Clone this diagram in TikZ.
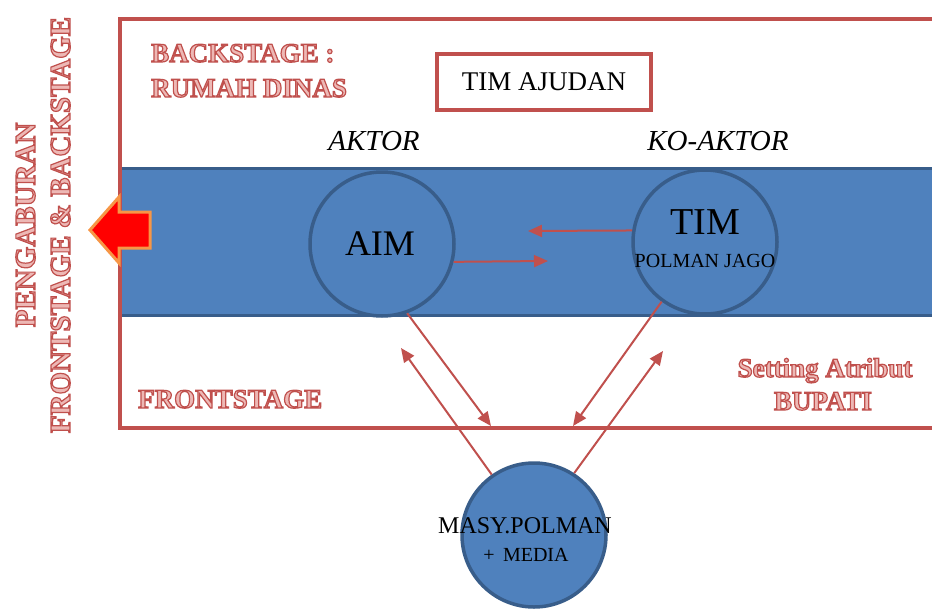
\documentclass[tikz,border=0pt]{standalone}
\usepackage{fontspec}
\setmainfont{Liberation Serif}
\usetikzlibrary{arrows.meta}
\definecolor{redline}{HTML}{C0504D}
\definecolor{bandblue}{HTML}{4F81BD}
\definecolor{darkblue}{HTML}{385D8A}
\definecolor{arrowred}{HTML}{FF0000}
\definecolor{arroworange}{HTML}{F79646}
\newcommand{\engr}[1]{\textcolor{redline}{\special{pdf:code q 2 Tr 1.2 w 0.93 0.72 0.71 rg}#1\special{pdf:code Q}}}
\tikzset{
  circ/.style={circle, fill=bandblue, draw=darkblue, line width=3.5pt, minimum size=144pt, inner sep=0pt},
  redarrow/.style={draw=redline, line width=2pt, -{Triangle[length=14pt,width=12pt]}},
  redtxt/.style={font=\fontsize{27}{30}\selectfont\bfseries, inner sep=0pt},
  vtxt/.style={font=\fontsize{29}{32}\selectfont\bfseries, inner sep=0pt, rotate=90, anchor=base},
  btxt/.style={text=black, inner sep=0pt}
}
\begin{document}
\begin{tikzpicture}[x=1pt,y=-1pt]
\useasboundingbox (0,0) rectangle (932,608);
\fill[white] (0,0) rectangle (932,608);
% blue band
\draw[fill=bandblue, draw=darkblue, line width=3pt] (120,168) rectangle (950,315);
% outer frame
\draw[redline, line width=4pt] (120,19) rectangle (950,428);
% circles
\node[circ] (aim) at (382,244) {};
\node[circ] (tim) at (705,242) {};
\node[circ] (masy) at (534,535) {};
\node[btxt, font=\fontsize{36}{36}\selectfont] (aimtxt) at (380,244) {AIM};
\node[btxt, font=\fontsize{38}{38}\selectfont] (timtxt) at (705,222) {TIM};
\node[btxt, font=\fontsize{20}{20}\selectfont] (timsub) at (705,261) {POLMAN JAGO};
\node[btxt, font=\fontsize{24}{24}\selectfont] (masytxt) at (525,526) {MASY.POLMAN};
\node[btxt, font=\fontsize{20}{20}\selectfont] (masysub) at (526,555) {+\, MEDIA};
% labels
\node[btxt, font=\fontsize{29}{29}\selectfont\itshape, anchor=base] (aktor) at (374,150) {AKTOR};
\node[btxt, font=\fontsize{29}{29}\selectfont\itshape, anchor=base] (koaktor) at (718,150) {KO-AKTOR};
\node[draw=redline, line width=3.5pt, minimum width=214pt, minimum height=56pt, font=\fontsize{27}{27}\selectfont] (ajudan) at (544,82) {TIM AJUDAN};
% red engraved texts
\node[redtxt, anchor=base west] (back1) at (151,62) {\engr{BACKSTAGE :}};
\node[redtxt, anchor=base west] (back2) at (151,97) {\engr{RUMAH DINAS}};
\node[redtxt, anchor=base west] (front) at (138,408) {\engr{FRONTSTAGE}};
\node[redtxt, anchor=base] (set1) at (825,377) {\engr{Setting Atribut}};
\node[redtxt, anchor=base] (set2) at (823,410) {\engr{BUPATI}};
\node[vtxt] (v1) at (35,225) {\engr{PENGABURAN}};
\node[vtxt] (v2) at (70,225) {\engr{FRONTSTAGE \& BACKSTAGE}};
% free ends
\coordinate (e1) at (491,426);
\coordinate (e2) at (401,348);
\coordinate (e3) at (573,426);
\coordinate (e4) at (663,351);
\coordinate (e5) at (528,231);
\coordinate (e6) at (548,261);
% arrows
\draw[redarrow] (aim.-70) -- (e1);
\draw[redarrow] (masy.125) -- (e2);
\draw[redarrow] (tim.-126) -- (e3);
\draw[redarrow] (masy.57) -- (e4);
\draw[redarrow] (tim.171) -- (e5);
\draw[redarrow] (aim.-14) -- (e6);
% block arrow
\filldraw[fill=arrowred, draw=arroworange, line width=3pt, line join=miter]
  (90,230) -- (119,197) -- (119,212) -- (150,212) -- (150,248) -- (119,248) -- (119,263) -- cycle;
\end{tikzpicture}
\end{document}
